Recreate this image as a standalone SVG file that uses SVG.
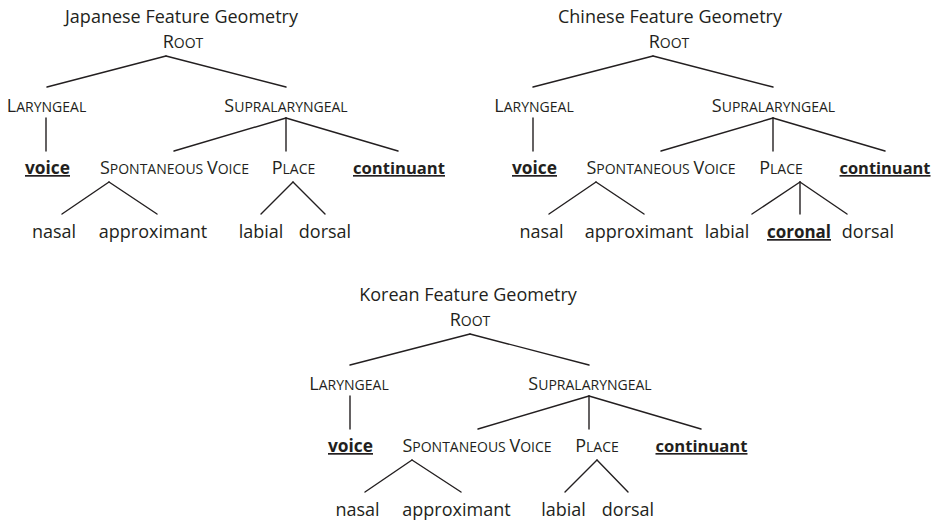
<svg xmlns="http://www.w3.org/2000/svg" width="935" height="524" viewBox="0 0 935 524">
<style>
text{font-family:"Open Sans","Noto Sans","Liberation Sans",sans-serif;font-size:18px;fill:#231f20;text-anchor:middle}
.sc{font-size:14px}
.b{font-weight:bold;text-decoration:underline;font-size:17px}
.b.c{font-size:16.5px}
.con line{stroke:#231f20;stroke-width:1.4;stroke-linecap:round}
</style>
<rect width="935" height="524" fill="#ffffff"/>
<g class="con" id="connectors">
<line x1="166" y1="56" x2="47" y2="87"/><line x1="166" y1="56" x2="286" y2="87"/>
<line x1="46" y1="118" x2="46" y2="151"/>
<line x1="286" y1="118" x2="174" y2="151"/><line x1="286" y1="118" x2="286" y2="151"/><line x1="286" y1="118" x2="398" y2="151"/>
<line x1="109" y1="182" x2="62" y2="214"/><line x1="109" y1="182" x2="157" y2="214"/>
<line x1="293" y1="182" x2="261" y2="214"/><line x1="293" y1="182" x2="325" y2="214"/>
<line x1="653" y1="56" x2="533" y2="87"/><line x1="653" y1="56" x2="773" y2="87"/>
<line x1="533" y1="118" x2="533" y2="151"/>
<line x1="773" y1="118" x2="661" y2="151"/><line x1="773" y1="118" x2="773" y2="151"/><line x1="773" y1="118" x2="885" y2="151"/>
<line x1="596" y1="182" x2="549" y2="214"/><line x1="596" y1="182" x2="644" y2="214"/>
<line x1="800" y1="182" x2="752" y2="214"/><line x1="800" y1="182" x2="800" y2="214"/><line x1="800" y1="182" x2="847" y2="214"/>
<line x1="470" y1="334" x2="350" y2="365"/><line x1="470" y1="334" x2="589" y2="365"/>
<line x1="350" y1="396" x2="350" y2="429"/>
<line x1="589" y1="396" x2="478" y2="429"/><line x1="589" y1="396" x2="589" y2="429"/><line x1="589" y1="396" x2="701" y2="429"/>
<line x1="412" y1="460" x2="365" y2="492"/><line x1="412" y1="460" x2="461" y2="492"/>
<line x1="597" y1="460" x2="565" y2="492"/><line x1="597" y1="460" x2="628" y2="492"/>
</g>
<g id="jp-title"><text x="181.5" y="23">Japanese Feature Geometry</text></g>
<g id="jp-root"><text x="183" y="48">R<tspan class="sc">OOT</tspan></text></g>
<g id="jp-laryngeal"><text x="46.5" y="112">L<tspan class="sc">ARYNGEAL</tspan></text></g>
<g id="jp-supralaryngeal"><text x="286" y="112">S<tspan class="sc">UPRALARYNGEAL</tspan></text></g>
<g id="jp-voice"><text class="b" x="47.5" y="174" textLength="45" lengthAdjust="spacingAndGlyphs">voice</text></g>
<g id="jp-spontaneous-voice"><text x="174.5" y="174">S<tspan class="sc">PONTANEOUS </tspan>V<tspan class="sc">OICE</tspan></text></g>
<g id="jp-place"><text x="293.5" y="174">P<tspan class="sc">LACE</tspan></text></g>
<g id="jp-continuant"><text class="b c" x="399" y="174" textLength="92" lengthAdjust="spacingAndGlyphs">continuant</text></g>
<g id="jp-nasal"><text x="54" y="238">nasal</text></g>
<g id="jp-approximant"><text x="153" y="238">approximant</text></g>
<g id="jp-labial"><text x="261" y="238">labial</text></g>
<g id="jp-dorsal"><text x="325" y="238">dorsal</text></g>
<g id="cn-title"><text x="670" y="23">Chinese Feature Geometry</text></g>
<g id="cn-root"><text x="669" y="48">R<tspan class="sc">OOT</tspan></text></g>
<g id="cn-laryngeal"><text x="534" y="112">L<tspan class="sc">ARYNGEAL</tspan></text></g>
<g id="cn-supralaryngeal"><text x="773.5" y="112">S<tspan class="sc">UPRALARYNGEAL</tspan></text></g>
<g id="cn-voice"><text class="b" x="534.5" y="174" textLength="45" lengthAdjust="spacingAndGlyphs">voice</text></g>
<g id="cn-spontaneous-voice"><text x="661" y="174">S<tspan class="sc">PONTANEOUS </tspan>V<tspan class="sc">OICE</tspan></text></g>
<g id="cn-place"><text x="781" y="174">P<tspan class="sc">LACE</tspan></text></g>
<g id="cn-continuant"><text class="b c" x="885" y="174" textLength="91" lengthAdjust="spacingAndGlyphs">continuant</text></g>
<g id="cn-nasal"><text x="541.5" y="238">nasal</text></g>
<g id="cn-approximant"><text x="639" y="238">approximant</text></g>
<g id="cn-labial"><text x="727" y="238">labial</text></g>
<g id="cn-coronal"><text class="b" x="799" y="238" textLength="64" lengthAdjust="spacingAndGlyphs">coronal</text></g>
<g id="cn-dorsal"><text x="868" y="238">dorsal</text></g>
<g id="kr-title"><text x="468" y="301">Korean Feature Geometry</text></g>
<g id="kr-root"><text x="470" y="326">R<tspan class="sc">OOT</tspan></text></g>
<g id="kr-laryngeal"><text x="349" y="390">L<tspan class="sc">ARYNGEAL</tspan></text></g>
<g id="kr-supralaryngeal"><text x="590" y="390">S<tspan class="sc">UPRALARYNGEAL</tspan></text></g>
<g id="kr-voice"><text class="b" x="350.5" y="452" textLength="45" lengthAdjust="spacingAndGlyphs">voice</text></g>
<g id="kr-spontaneous-voice"><text x="477" y="452">S<tspan class="sc">PONTANEOUS </tspan>V<tspan class="sc">OICE</tspan></text></g>
<g id="kr-place"><text x="597" y="452">P<tspan class="sc">LACE</tspan></text></g>
<g id="kr-continuant"><text class="b c" x="701.5" y="452" textLength="92" lengthAdjust="spacingAndGlyphs">continuant</text></g>
<g id="kr-nasal"><text x="357.5" y="516">nasal</text></g>
<g id="kr-approximant"><text x="456.5" y="516">approximant</text></g>
<g id="kr-labial"><text x="563.5" y="516">labial</text></g>
<g id="kr-dorsal"><text x="628" y="516">dorsal</text></g>
</svg>
